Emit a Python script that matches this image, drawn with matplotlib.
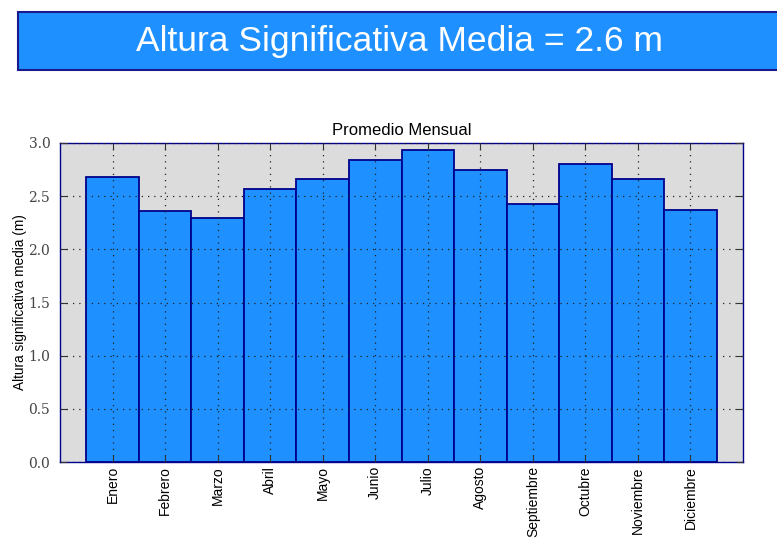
import matplotlib
matplotlib.use("Agg")
import matplotlib.pyplot as plt
from matplotlib.patches import Rectangle

# monthly mean significant wave height (m)
meses = ["Enero", "Febrero", "Marzo", "Abril", "Mayo", "Junio", "Julio",
         "Agosto", "Septiembre", "Octubre", "Noviembre", "Diciembre"]
altura = [2.68, 2.36, 2.29, 2.57, 2.66, 2.84, 2.93, 2.75, 2.43, 2.80, 2.66, 2.37]
media = 2.6
yticks = [0.0, 0.5, 1.0, 1.5, 2.0, 2.5, 3.0]

fig = plt.figure(figsize=(7.77, 5.42), dpi=100, facecolor="white")

# title banner
banner = fig.add_axes([0, 0, 1, 1], zorder=0)
banner.set_axis_off()
banner.set_xlim(0, 777)
banner.set_ylim(542, 0)
banner.add_patch(Rectangle((18, 12), 780, 58, facecolor="#1e90ff",
                           edgecolor="#1a1a8c", linewidth=1.5))
banner.text(400, 41, "Altura Significativa Media = {} m".format(media),
            color="white", fontsize=25.5, ha="center", va="center",
            family="Liberation Sans")

ax = fig.add_axes([60 / 777, 1 - 462 / 542, 683 / 777, 319 / 542], zorder=1)
ax.set_facecolor("#dcdcdc")
pos = list(range(1, len(meses) + 1))
ax.bar(pos, altura, width=1.0, color="#1e90ff", edgecolor="#00008b",
       linewidth=1.3, zorder=1)
ax.set_xlim(0, 13)
ax.set_ylim(0, 3.0)
ax.set_xticks(pos)
ax.set_xticklabels(meses, rotation=90, fontsize=10, family="Liberation Sans")
ax.set_yticks(yticks)
ax.set_yticklabels(["{:.1f}".format(v) for v in yticks], fontsize=10,
                   family="DejaVu Serif", color="#444444")
ax.tick_params(direction="in", top=True, right=True, length=5, color="#333333")
ax.tick_params(axis="y", pad=7)
ax.tick_params(axis="x", pad=3)
ax.grid(True, linestyle=(0, (1, 4)), color="#222222", linewidth=0.9, zorder=3)
ax.set_axisbelow(False)
for s in ax.spines.values():
    s.set_color("#00008b")
    s.set_linewidth(1.0)
ax.set_title("Promedio Mensual", fontsize=12, family="Liberation Sans", pad=6)
ax.set_ylabel("Altura significativa media (m)", fontsize=9.8,
              family="Liberation Sans", labelpad=1)

fig.savefig("out.png", dpi=100)
